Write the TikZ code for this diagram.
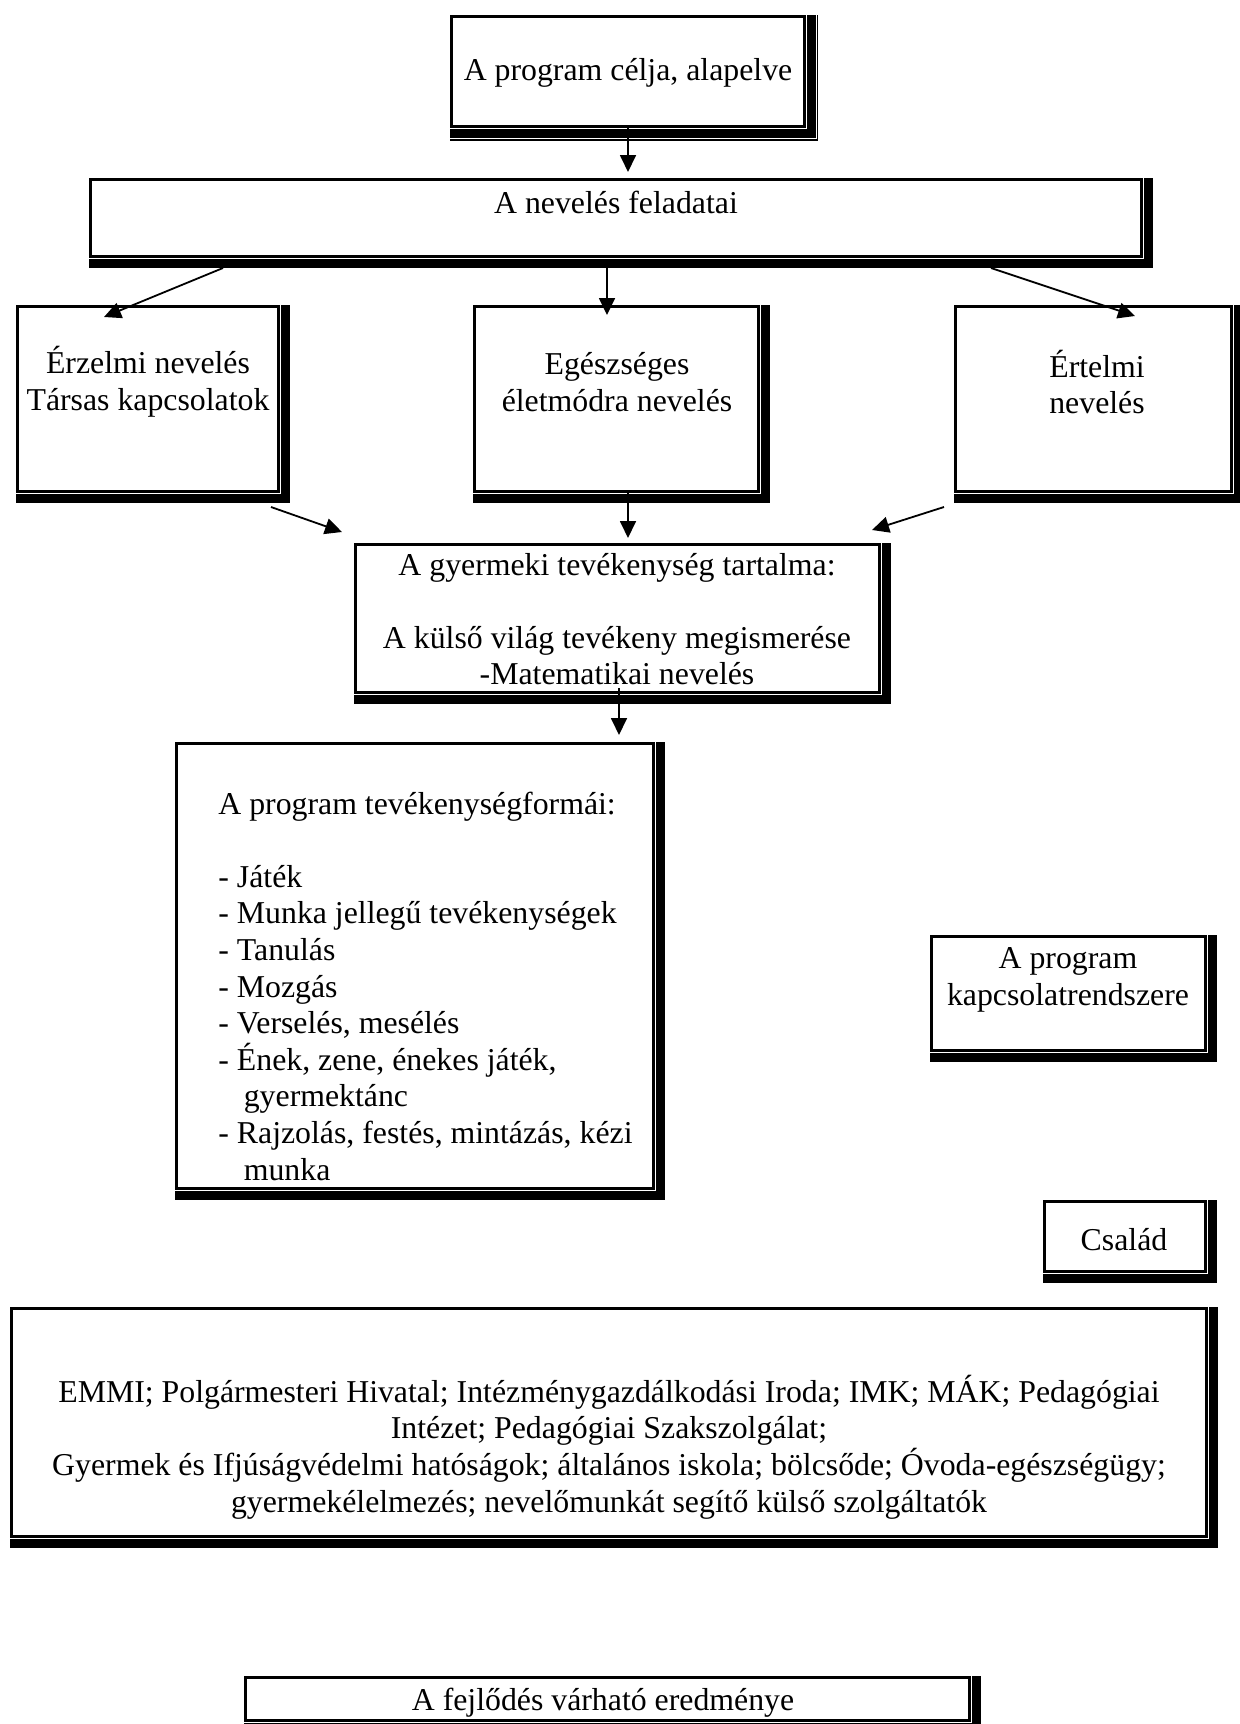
\documentclass[tikz,border=0pt]{standalone}
\usepackage{fontspec}
\setmainfont{Liberation Serif}
\usetikzlibrary{arrows.meta,calc}
\begin{document}
\begin{tikzpicture}[x=0.5pt,y=-0.5pt,
  font=\fontsize{15.9}{18.3}\selectfont,
  frame/.style={draw, line width=1.6pt, inner sep=0pt, anchor=north west},
  txt/.style={inner sep=0pt, align=center},
  arr/.style={-{Triangle[length=8.5pt,width=8pt]}, line width=0.9pt}]
\newcommand\mkbx[5]{%
  \node[frame, minimum width={(#4-#2-3.2)*0.5pt}, minimum height={(#5-#3-3.2)*0.5pt}] (#1) at (#2,#3) {};
  \fill ($(#1.north east)+(1.2,0)$) rectangle ($(#1.south east)+(9.5,9.5)$);
  \fill ($(#1.south west)+(0,1.2)$) rectangle ($(#1.south east)+(9.5,9.5)$);
}
\useasboundingbox (0,0) rectangle (1239,1724);
\mkbx{b1}{450}{15}{806}{128}
\draw[line width=0.75pt] ($(b1.north east)+(11.5,0)$) |- ($(b1.south west)+(0,12)$);
\mkbx{nev}{89}{178}{1143}{258}
\mkbx{erz}{16}{305}{280}{493}
\mkbx{ege}{473}{305}{760}{493}
\mkbx{ert}{954}{305}{1233}{493}
\mkbx{gyer}{354}{543}{881}{694}
\mkbx{list}{175}{742}{655}{1190}
\mkbx{kap}{930}{935}{1207}{1052}
\mkbx{csa}{1043}{1200}{1207}{1273}
\mkbx{emmi}{10}{1307}{1208}{1538}
\mkbx{fej}{244}{1676}{971}{1722}

\node[txt] (b1t) at (628,73) {A program célja, alapelve};
\node[txt] (nevt) at (616,202) {A nevelés feladatai};
\node[txt] (erzt) at (148,382) {Érzelmi nevelés\\Társas kapcsolatok};
\node[txt] (eget) at (617,382) {Egészséges\\életmódra nevelés};
\node[txt] (ertt) at (1097,382) {Értelmi\\nevelés};
\node[txt] (gyert) at (617,619) {A gyermeki tevékenység tartalma:\\[18.3pt]A külső világ tevékeny megismerése\\-Matematikai nevelés};
\node[txt, align=left, anchor=west] (listt) at (218,986) {A program tevékenységformái:\\[18.3pt]- Játék\\- Munka jellegű tevékenységek\\- Tanulás\\- Mozgás\\- Verselés, mesélés\\- Ének, zene, énekes játék,\\\hspace*{0.8em}gyermektánc\\- Rajzolás, festés, mintázás, kézi\\\hspace*{0.8em}munka};
\node[txt] (kapt) at (1068,980) {A program\\kapcsolatrendszere};
\node[txt] (csat) at (1124,1240) {Család};
\node[txt] (emmit) at (609,1447) {EMMI; Polgármesteri Hivatal; Intézménygazdálkodási Iroda; IMK; MÁK; Pedagógiai\\Intézet; Pedagógiai Szakszolgálat;\\Gyermek és Ifjúságvédelmi hatóságok; általános iskola; bölcsőde; Óvoda-egészségügy;\\gyermekélelmezés; nevelőmunkát segítő külső szolgáltatók};
\node[txt] (fejt) at (603,1703) {A fejlődés várható eredménye};

\draw[arr, shorten >=3pt] (b1.south) -- (b1.south |- nev.north);
\draw[arr] ($(nev.south west)+(134,10)$) -- ($(erz.north west)+(88,12)$);
\draw[arr] ($(nev.south)+(-9,10)$) -- ($(ege.north)+(-9.5,10)$);
\draw[arr] ($(nev.south west)+(902,10)$) -- ($(ert.north west)+(181,11)$);
\draw[arr] ($(erz.south east)+(-9,14)$) -- ($(gyer.north west)+(-12,-11)$);
\draw[arr] ($(ege.south)+(11.5,-1)$) -- ($(gyer.north)+(10.5,-5)$);
\draw[arr] ($(ert.south west)+(-10,14)$) -- ($(gyer.north east)+(-9,-13)$);
\draw[arr] ($(gyer.south)+(1.5,-6)$) -- ($(list.north east)+(-36,-7)$);
\end{tikzpicture}
\end{document}
